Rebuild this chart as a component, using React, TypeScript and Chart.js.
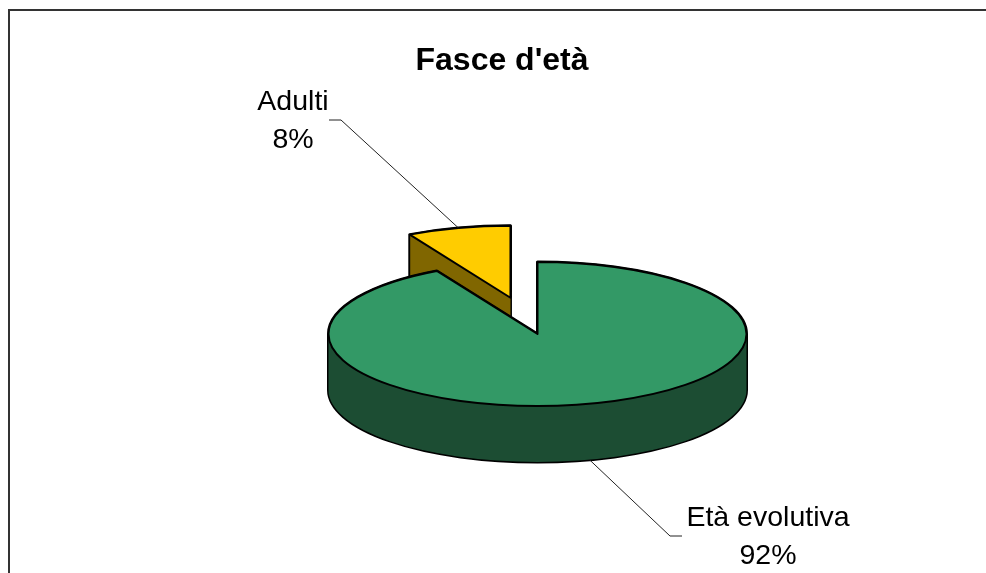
import React, { useEffect, useRef } from "react";
import { Chart, registerables } from "chart.js";

Chart.register(...registerables);

const titleText = "Fasce d'età";
const categories = ["Adulti", "Età evolutiva"];
const shares = [8, 92];
const topColors = ["#FFCC00", "#339966"];
const sideColors = ["#806600", "#1C4D33"];
const explosion = [0.52, 0];

const FONT = '"Liberation Sans", Arial, sans-serif';
const pie = { cx: 537.5, cy: 334, rx: 209, ry: 72, depth: 56 };
const callouts = [
  { textX: 293, textY: 102, elbowX: 341, elbowY: 120, endX: 329 },
  { textX: 768, textY: 518, elbowX: 670, elbowY: 536, endX: 682 },
];

function midAngle(arc: any) {
  return (arc.startAngle + arc.endAngle) / 2;
}

function addSlice(ctx: CanvasRenderingContext2D, arc: any, i: number, dy: number) {
  const mid = midAngle(arc);
  const cx = pie.cx + Math.cos(mid) * explosion[i] * pie.rx;
  const cy = pie.cy + Math.sin(mid) * explosion[i] * pie.ry + dy;
  ctx.moveTo(cx, cy);
  ctx.ellipse(cx, cy, pie.rx, pie.ry, 0, arc.startAngle, arc.endAngle);
  ctx.closePath();
}

const tiltedPie = {
  id: "tiltedPie",
  beforeDraw(chart: any) {
    const { ctx } = chart;
    ctx.save();
    ctx.strokeStyle = "#333333";
    ctx.lineWidth = 2;
    ctx.strokeRect(9, 10, 1200, 1200);
    ctx.restore();
  },
  beforeDatasetDraw(chart: any, args: any) {
    const { ctx } = chart;
    const arcs = args.meta.data;
    arcs.forEach((arc: any, i: number) => {
      ctx.save();
      ctx.lineJoin = "round";
      ctx.beginPath();
      for (let dy = pie.depth; dy >= 0; dy -= 0.5) addSlice(ctx, arc, i, dy);
      ctx.lineWidth = 3;
      ctx.strokeStyle = "#000000";
      ctx.stroke();
      ctx.fillStyle = sideColors[i];
      ctx.fill();
      const mid = midAngle(arc);
      const R = arc.outerRadius;
      ctx.save();
      ctx.translate(
        pie.cx + Math.cos(mid) * explosion[i] * pie.rx,
        pie.cy + Math.sin(mid) * explosion[i] * pie.ry,
      );
      ctx.scale(pie.rx / R, pie.ry / R);
      ctx.translate(-arc.x, -arc.y);
      arc.draw(ctx);
      ctx.restore();
      ctx.strokeStyle = "#000000";
      ctx.lineWidth = 2;
      ctx.beginPath();
      addSlice(ctx, arc, i, 0);
      ctx.stroke();
      ctx.restore();
    });
    return false;
  },
  afterDraw(chart: any) {
    const { ctx } = chart;
    const arcs = chart.getDatasetMeta(0).data;
    arcs.forEach((arc: any, i: number) => {
      const c = callouts[i];
      const mid = midAngle(arc);
      const front = Math.sin(mid) > 0;
      const ax = pie.cx + Math.cos(mid) * (1 + explosion[i]) * pie.rx;
      const ay = pie.cy + Math.sin(mid) * (1 + explosion[i]) * pie.ry + (front ? pie.depth : 0);
      ctx.save();
      ctx.strokeStyle = "#222222";
      ctx.lineWidth = 1;
      ctx.beginPath();
      ctx.moveTo(ax, ay);
      ctx.lineTo(c.elbowX, c.elbowY);
      ctx.lineTo(c.endX, c.elbowY);
      ctx.stroke();
      ctx.fillStyle = "#000000";
      ctx.font = `28.5px ${FONT}`;
      ctx.textAlign = "center";
      ctx.textBaseline = "middle";
      ctx.fillText(categories[i], c.textX, c.textY);
      ctx.fillText(`${shares[i]}%`, c.textX, c.textY + 38);
      ctx.restore();
    });
  },
};

export default function App() {
  const ref = useRef<HTMLCanvasElement>(null);
  useEffect(() => {
    const total = shares.reduce((a, b) => a + b, 0);
    const chart = new Chart(ref.current as HTMLCanvasElement, {
      type: "pie",
      data: {
        labels: categories,
        datasets: [{ data: shares, backgroundColor: topColors, borderWidth: 0 }],
      },
      options: {
        responsive: false,
        animation: false,
        events: [],
        rotation: (-360 * shares[0]) / total,
        layout: { padding: { left: 18, right: 0, top: 0, bottom: 0 } },
        plugins: {
          legend: { display: false },
          tooltip: { enabled: false },
          title: {
            display: true,
            text: titleText,
            color: "#000000",
            font: { family: FONT, size: 32, weight: "bold" },
            padding: { top: 42, bottom: 0 },
          },
        },
      },
      plugins: [tiltedPie],
    } as any);
    return () => chart.destroy();
  }, []);
  return (
    <div style={{ position: "absolute", left: 0, top: 0, width: 986, height: 573, overflow: "hidden", background: "#fff" }}>
      <canvas ref={ref} width={986} height={573} style={{ display: "block" }} />
    </div>
  );
}
